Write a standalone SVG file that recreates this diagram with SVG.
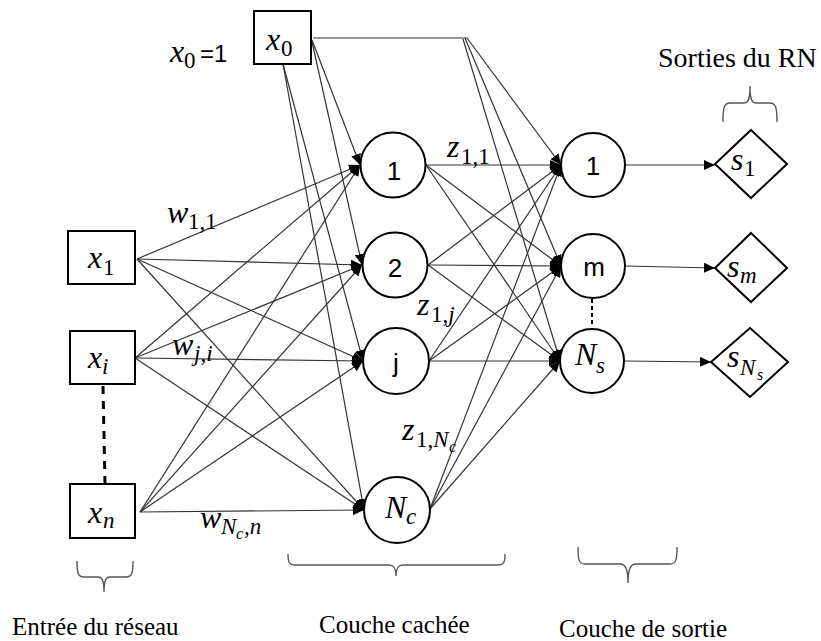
<svg xmlns="http://www.w3.org/2000/svg" width="821" height="641" viewBox="0 0 821 641">
<defs>
<marker id="ah" markerUnits="userSpaceOnUse" markerWidth="12" markerHeight="10" refX="11" refY="5" orient="auto">
<path d="M0,0 L11,5 L0,10 z" fill="#000"/>
</marker>
<style>
.bg{fill:#fff}
.box{fill:#fff;stroke:#000;stroke-width:2}
.node{fill:#fff;stroke:#000;stroke-width:2}
.e{fill:none;stroke:#333;stroke-width:1.2}
.ea{fill:none;stroke:#333;stroke-width:1.2;marker-end:url(#ah)}
.brace{fill:none;stroke:#555;stroke-width:1.4}
.m{font-family:"Liberation Serif","DejaVu Serif",serif;font-style:italic;font-size:32px;fill:#000}
.ms{font-family:"Liberation Serif","DejaVu Serif",serif;font-size:23px;fill:#000}
.mss{font-family:"Liberation Serif","DejaVu Serif",serif;font-size:16px;fill:#000;font-style:italic}
.i{font-style:italic}
.n{font-family:"Liberation Sans",Arial,sans-serif;font-size:26px;fill:#000}
.t{font-family:"Liberation Serif","Times New Roman",serif;font-size:25px;fill:#000}
</style>
</defs>
<rect class="bg" x="0" y="0" width="821" height="641"/>

<g id="connectors">
<line class="ea" x1="137" y1="259" x2="360" y2="165"/>
<line class="ea" x1="137" y1="259" x2="362" y2="265"/>
<line class="ea" x1="137" y1="259" x2="363" y2="361"/>
<line class="ea" x1="137" y1="259" x2="364" y2="510"/>
<line class="ea" x1="135" y1="358" x2="360" y2="165"/>
<line class="ea" x1="135" y1="358" x2="362" y2="265"/>
<line class="ea" x1="135" y1="358" x2="363" y2="361"/>
<line class="ea" x1="135" y1="358" x2="364" y2="510"/>
<line class="ea" x1="140" y1="512" x2="360" y2="165"/>
<line class="ea" x1="140" y1="512" x2="362" y2="265"/>
<line class="ea" x1="140" y1="512" x2="363" y2="361"/>
<line class="ea" x1="140" y1="512" x2="364" y2="510"/>
<line class="ea" x1="312" y1="40" x2="360" y2="165"/>
<line class="ea" x1="312" y1="42" x2="362" y2="265"/>
<line class="ea" x1="283" y1="64" x2="363" y2="361"/>
<line class="ea" x1="283" y1="64" x2="364" y2="510"/>
<line class="ea" x1="426" y1="165" x2="561" y2="165"/>
<line class="ea" x1="426" y1="165" x2="561" y2="266"/>
<line class="ea" x1="426" y1="165" x2="560" y2="361"/>
<line class="ea" x1="428" y1="265" x2="561" y2="165"/>
<line class="ea" x1="428" y1="265" x2="561" y2="266"/>
<line class="ea" x1="428" y1="265" x2="560" y2="361"/>
<line class="ea" x1="429" y1="361" x2="561" y2="165"/>
<line class="ea" x1="429" y1="361" x2="561" y2="266"/>
<line class="ea" x1="429" y1="361" x2="560" y2="361"/>
<line class="ea" x1="430" y1="509" x2="561" y2="165"/>
<line class="ea" x1="430" y1="509" x2="561" y2="266"/>
<line class="ea" x1="430" y1="509" x2="560" y2="361"/>
<path class="ea" d="M313,38 L467,38 L561,165"/>
<line class="ea" x1="465" y1="38" x2="561" y2="266"/>
<line class="ea" x1="463" y1="39" x2="560" y2="361"/>
<line class="ea" x1="625" y1="165" x2="715" y2="165"/>
<line class="ea" x1="625" y1="266" x2="715" y2="268"/>
<line class="ea" x1="624" y1="361" x2="711" y2="362"/>
<line x1="103" y1="386" x2="105" y2="484" stroke="#000" stroke-width="3" stroke-dasharray="8,7"/>
<line x1="592" y1="299" x2="592" y2="327" stroke="#000" stroke-width="2" stroke-dasharray="4,3"/>
</g>

<g id="weights">
<text class="m" x="167" y="223">w</text><text class="ms" x="188" y="229">1,1</text>
<text class="m" x="172" y="355">w</text><text class="ms" x="194" y="361"><tspan class="i">j</tspan>,<tspan class="i">i</tspan></text>
<text class="m" x="200" y="528">w</text><text class="ms" x="221" y="534"><tspan class="i">N</tspan></text><text class="mss" x="236" y="539">c</text><text class="ms" x="244" y="534">,<tspan class="i">n</tspan></text>
<text class="m" x="447" y="157">z</text><text class="ms" x="461" y="164">1,1</text>
<text class="m" x="417" y="315">z</text><text class="ms" x="431" y="322">1,<tspan class="i">j</tspan></text>
<text class="m" x="402" y="440">z</text><text class="ms" x="416" y="447">1,<tspan class="i">N</tspan></text><text class="mss" x="449" y="452">c</text>
</g>

<g id="x0label">
<text class="m" x="170" y="62">x</text><text class="ms" x="184" y="68">0</text>
<text class="n" x="200" y="62" style="font-size:24px">=1</text>
</g>

<g id="in_x0"><rect class="box" x="254" y="11" width="57" height="53"/><text class="m" x="266" y="50">x</text><text class="ms" x="281" y="56">0</text></g>
<g id="in_x1"><rect class="box" x="68" y="231" width="67" height="53"/><text class="m" x="88" y="268">x</text><text class="ms" x="103" y="275">1</text></g>
<g id="in_xi"><rect class="box" x="70" y="331" width="65" height="53"/><text class="m" x="88" y="368">x</text><text class="ms i" x="102" y="374">i</text></g>
<g id="in_xn"><rect class="box" x="70" y="484" width="65" height="54"/><text class="m" x="88" y="523">x</text><text class="ms i" x="103" y="528">n</text></g>

<g id="h1"><circle class="node" cx="393" cy="165" r="32.5"/><text class="n" x="394" y="180" text-anchor="middle">1</text></g>
<g id="h2"><circle class="node" cx="395" cy="265" r="32.5"/><text class="n" x="395" y="277" text-anchor="middle">2</text></g>
<g id="hj"><circle class="node" cx="396" cy="361" r="33"/><text class="n" x="396" y="372" text-anchor="middle">j</text></g>
<g id="hNc"><circle class="node" cx="397" cy="510" r="33"/><text class="m" x="385" y="518">N</text><text class="ms i" x="406" y="524">c</text></g>

<g id="o1"><circle class="node" cx="593" cy="165" r="32"/><text class="n" x="593" y="175" text-anchor="middle">1</text></g>
<g id="om"><circle class="node" cx="593" cy="266" r="32"/><text class="n" x="594" y="276" text-anchor="middle">m</text></g>
<g id="oNs"><circle class="node" cx="592" cy="361" r="32"/><text class="m" x="575" y="365">N</text><text class="ms i" x="596" y="373">s</text></g>

<g id="s1"><polygon class="node" points="751,130 787,164 751,198 715,164"/><text class="m" x="731" y="170">s</text><text class="ms" x="744" y="176">1</text></g>
<g id="sm"><polygon class="node" points="751,233 787,268 751,302 715,268"/><text class="m" x="727" y="277">s</text><text class="ms i" x="740" y="283">m</text></g>
<g id="sNs"><polygon class="node" points="750,328 788,362 750,397 711,362"/><text class="m" x="727" y="367">s</text><text class="ms i" x="740" y="375">N</text><text class="mss" x="757" y="380">s</text></g>

<g id="braces">
<path class="brace" d="M723,122 C723,108 724,103 730,103 L744,103 C748,103 750,100 750,86 C750,100 752,103 756,103 L770,103 C776,103 777,108 777,122"/>
<path class="brace" d="M77,561 C77,573 78,577 84,577 L98,577 C102,577 104,580 104,592 C104,580 106,577 110,577 L126,577 C132,577 133,573 133,561"/>
<path class="brace" d="M288,554 C288,562 289,565 295,565 L389,565 C394,565 396,568 396,576 C396,568 398,565 403,565 L498,565 C504,565 505,562 505,554"/>
<path class="brace" d="M578,547 C578,560 579,564 585,564 L620,564 C625,564 628,568 628,583 C628,568 631,564 636,564 L670,564 C676,564 677,560 677,547"/>
</g>

<g id="captions">
<text class="t" x="658" y="67" style="font-size:28px">Sorties du RN</text>
<text class="t" x="12" y="635">Entrée du réseau</text>
<text class="t" x="319" y="633">Couche cachée</text>
<text class="t" x="559" y="637">Couche de sortie</text>
</g>
</svg>
